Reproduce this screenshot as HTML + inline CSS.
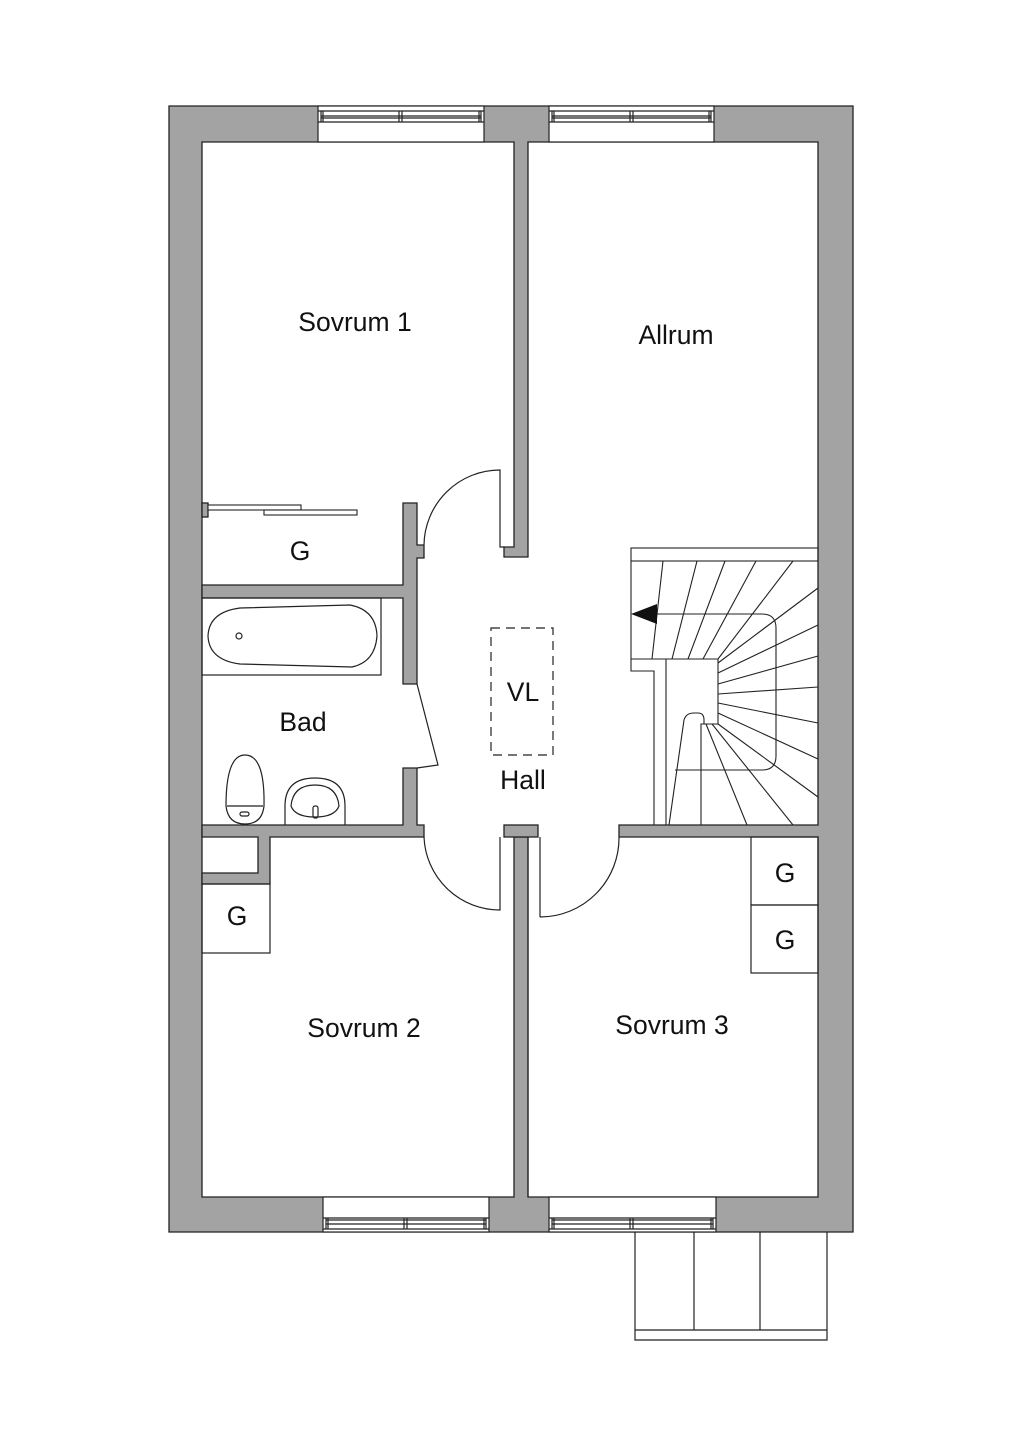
<!DOCTYPE html>
<html><head><meta charset="utf-8"><style>
html,body{margin:0;padding:0;background:#fff}
svg{display:block}
text{font-family:"Liberation Sans",sans-serif;font-size:26.5px;fill:#111;text-anchor:middle}
</style></head><body>
<svg width="1024" height="1448" viewBox="0 0 1024 1448" xmlns="http://www.w3.org/2000/svg">
<g fill="#a3a3a3" stroke="#222" stroke-width="1.3">
<path d="M169,106 H853 V1232 H169 Z M202,142 V1197 H514 V837 H528 V1197 H818 V837 H619 V825 H818 V142 H528 V557 H504 V547 H514 V142 Z" fill-rule="evenodd"/>
</g>
<g fill="#fff" stroke="#222" stroke-width="1.2">
<rect x="318" y="106" width="166" height="36"/>
<rect x="549" y="106" width="165" height="36"/>
<rect x="323" y="1197" width="166" height="35"/>
<rect x="549" y="1197" width="167" height="35"/>
</g>
<g fill="none" stroke="#222" stroke-width="1.2">
<path d="M318,111 H484 M318,122 H484 M321,111 V122 M323,111 V122 M479,111 V122 M481,111 V122 M321,116 H481 M321,118 H481 M399,111 V122 M402,111 V122"/>
<path d="M549,111 H714 M549,122 H714 M552,111 V122 M554,111 V122 M709,111 V122 M711,111 V122 M552,116 H711 M552,118 H711 M630,111 V122 M633,111 V122"/>
<path d="M323,1218 H489 M323,1229 H489 M326,1218 V1229 M328,1218 V1229 M484,1218 V1229 M486,1218 V1229 M326,1220 H486 M326,1224 H486 M404,1218 V1229 M407,1218 V1229"/>
<path d="M549,1218 H716 M549,1229 H716 M552,1218 V1229 M554,1218 V1229 M711,1218 V1229 M713,1218 V1229 M552,1220 H713 M552,1224 H713 M630,1218 V1229 M633,1218 V1229"/>
</g>
<g fill="#a3a3a3" stroke="#222" stroke-width="1.3">
<path d="M202,585 H403 V503 H417 V545 H424 V558 H417 V684 H403 V598 H202 Z"/>
<path d="M403,768 H417 V825 H424 V837 H270 V884 H202 V873 H258 V837 H202 V825 H403 Z"/>
<rect x="504" y="825" width="34" height="12"/>
<rect x="202" y="503" width="6" height="14"/>
</g>
<g fill="#fff" stroke="#222" stroke-width="1.1">
<rect x="208" y="505" width="93" height="5"/>
<rect x="264" y="510" width="93" height="5"/>
</g>
<g fill="none" stroke="#222" stroke-width="1.2">
<path d="M424,545 A76,76 0 0 1 500,470 V547 H504"/>
<path d="M424,837 A76,76 0 0 0 500,910 V837"/>
<path d="M540,917 A79,79 0 0 0 619,837"/>
<path d="M528,837 V1197 M540,837 V917"/>
<path d="M417,684 L438,765 L417,768"/>
<rect x="491" y="628" width="62" height="127" stroke-dasharray="9,6"/>
</g>
<g fill="none" stroke="#222" stroke-width="1.2">
<rect x="202" y="598" width="179" height="77"/>
<path d="M240,608 L350,605 Q376,610 377,636 Q375,662 352,667 L240,664 Q209,660 208,636 Q209,612 240,608 Z"/>
<circle cx="239" cy="636" r="3"/>
<path d="M226,806 Q226,755 245,755 Q265,755 264,806 Q262,824 245,824 Q228,824 226,806 Z M227,806 H263"/>
<rect x="240" y="812" width="9" height="4" rx="2"/>
<path d="M285,825 V806 Q285,778 315,778 Q345,778 345,806 V825"/>
<path d="M291,806 Q293,785 315,785 Q337,785 339,806 Q335,817 315,817 Q295,817 291,806 Z"/>
<rect x="313" y="806" width="5" height="12" rx="2"/>
<rect x="202" y="884" width="68" height="69"/>
<rect x="751" y="837" width="67" height="68"/>
<rect x="751" y="905" width="67" height="68"/>
</g>
<g fill="none" stroke="#222" stroke-width="1.1">
<rect x="631" y="548" width="187" height="13"/>
<path d="M631,561 V671 H654 V825 M631,659 H718 M666,659 V825 M666,659 H718 V724 H701 V825"/>
<path d="M663,561 L652,659 M697,561 L672,659 M725,561 L688,659 M756,561 L703,659 M793,561 L718,659"/>
<path d="M718,663 L818,588 M718,673 L818,625 M718,684 L818,656 M718,694 L818,687 M718,703 L818,723 M718,713 L818,759 M718,724 L818,797"/>
<path d="M706,724 L747,825 M712,724 L793,825"/>
<path d="M657,614 H762 Q776,614 776,628 V756 Q776,770 762,770 H675"/>
<path d="M669,825 L684,720 Q686,713 694,713 H698 Q704,713 704,720 V724"/>
</g>
<polygon points="631,614 657,604 657,624" fill="#111"/>
<g fill="none" stroke="#222" stroke-width="1.2">
<path d="M635,1232 V1340 H827 V1232 M635,1330 H827 M694,1232 V1330 M760,1232 V1330"/>
</g>
<text x="355" y="331">Sovrum 1</text>
<text x="676" y="344">Allrum</text>
<text x="300" y="560">G</text>
<text x="303" y="731">Bad</text>
<text x="523" y="701">VL</text>
<text x="523" y="789">Hall</text>
<text x="237" y="925">G</text>
<text x="364" y="1037">Sovrum 2</text>
<text x="672" y="1034">Sovrum 3</text>
<text x="785" y="882">G</text>
<text x="785" y="949">G</text>
</svg>
</body></html>
